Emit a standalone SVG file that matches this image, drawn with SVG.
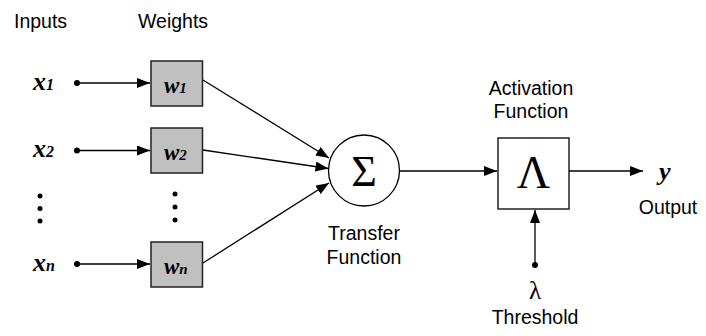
<svg xmlns="http://www.w3.org/2000/svg" width="706" height="336" viewBox="0 0 706 336">
<defs>
<style>
.lbl{font-family:"Liberation Sans",Arial,sans-serif;font-size:19.5px;fill:#000}
.var{font-family:"Liberation Serif","Times New Roman",serif;font-weight:bold;font-style:italic;fill:#000}
.sym{font-family:"Liberation Serif","Times New Roman",serif;fill:#000}
.wbox{fill:#c0c0c0;stroke:#222;stroke-width:1.5}
.wire{stroke:#000;stroke-width:1.3;fill:none}
</style>
<marker id="ah" markerUnits="userSpaceOnUse" markerWidth="14" markerHeight="10" refX="13" refY="5" orient="auto">
<path d="M0,0 L13,5 L0,10 Z" fill="#000"/>
</marker>
</defs>
<rect width="706" height="336" fill="#fff"/>
<g id="headers">
<text class="lbl" x="14" y="28">Inputs</text>
<text class="lbl" x="138" y="28">Weights</text>
</g>
<g id="x1"><text class="var" x="33" y="90"><tspan font-size="26">x</tspan><tspan font-size="16">1</tspan></text><circle cx="77" cy="83" r="3"/></g>
<g id="x2"><text class="var" x="33" y="157"><tspan font-size="26">x</tspan><tspan font-size="16">2</tspan></text><circle cx="77" cy="150.5" r="3"/></g>
<g id="xn"><text class="var" x="33" y="271"><tspan font-size="26">x</tspan><tspan font-size="16">n</tspan></text><circle cx="77" cy="264" r="3"/></g>
<g id="dots-in"><circle cx="40" cy="196" r="2.5"/><circle cx="40" cy="208.5" r="2.5"/><circle cx="40" cy="221" r="2.5"/></g>
<g id="dots-w"><circle cx="175" cy="194" r="2.5"/><circle cx="175" cy="207" r="2.5"/><circle cx="175" cy="220" r="2.5"/></g>
<g id="w1"><rect class="wbox" x="151" y="61" width="51.5" height="45"/><text class="var" x="164" y="93"><tspan font-size="23">w</tspan><tspan font-size="15">1</tspan></text></g>
<g id="w2"><rect class="wbox" x="151" y="128" width="51.5" height="45"/><text class="var" x="164" y="160"><tspan font-size="23">w</tspan><tspan font-size="15">2</tspan></text></g>
<g id="wn"><rect class="wbox" x="151" y="242" width="51.5" height="45"/><text class="var" x="164" y="274"><tspan font-size="23">w</tspan><tspan font-size="15">n</tspan></text></g>
<g id="sum">
<circle cx="364" cy="170.5" r="35.5" fill="#fff" stroke="#000" stroke-width="1.3"/>
<text class="sym" x="364" y="186" font-size="44" text-anchor="middle">Σ</text>
<text class="lbl" x="364" y="240" text-anchor="middle">Transfer</text>
<text class="lbl" x="364" y="264" text-anchor="middle">Function</text>
</g>
<g id="activation">
<rect x="498" y="138" width="71" height="71" fill="#fff" stroke="#222" stroke-width="1.5"/>
<text class="sym" x="533.5" y="188" font-size="46" text-anchor="middle">Λ</text>
<text class="lbl" x="531" y="95" text-anchor="middle">Activation</text>
<text class="lbl" x="531" y="118" text-anchor="middle">Function</text>
</g>
<g id="output">
<text class="var" x="659" y="180" font-size="26">y</text>
<text class="lbl" x="668" y="214" text-anchor="middle">Output</text>
</g>
<g id="threshold">
<circle cx="535" cy="265" r="3"/>
<text class="sym" x="535" y="299" font-size="25" text-anchor="middle">λ</text>
<text class="lbl" x="535" y="324" text-anchor="middle">Threshold</text>
</g>
<g id="connectors">
<line class="wire" x1="77" y1="83" x2="150" y2="83" marker-end="url(#ah)"/>
<line class="wire" x1="77" y1="150.5" x2="150" y2="150.5" marker-end="url(#ah)"/>
<line class="wire" x1="77" y1="264" x2="150" y2="264" marker-end="url(#ah)"/>
<line class="wire" x1="203" y1="80" x2="329" y2="158" marker-end="url(#ah)"/>
<line class="wire" x1="203" y1="150" x2="328.5" y2="168.5" marker-end="url(#ah)"/>
<line class="wire" x1="203" y1="263" x2="329" y2="183" marker-end="url(#ah)"/>
<line class="wire" x1="399.5" y1="171" x2="497" y2="171" marker-end="url(#ah)"/>
<line class="wire" x1="569" y1="171" x2="643" y2="171" marker-end="url(#ah)"/>
<line class="wire" x1="535" y1="265" x2="535" y2="210" marker-end="url(#ah)"/>
</g>
</svg>
